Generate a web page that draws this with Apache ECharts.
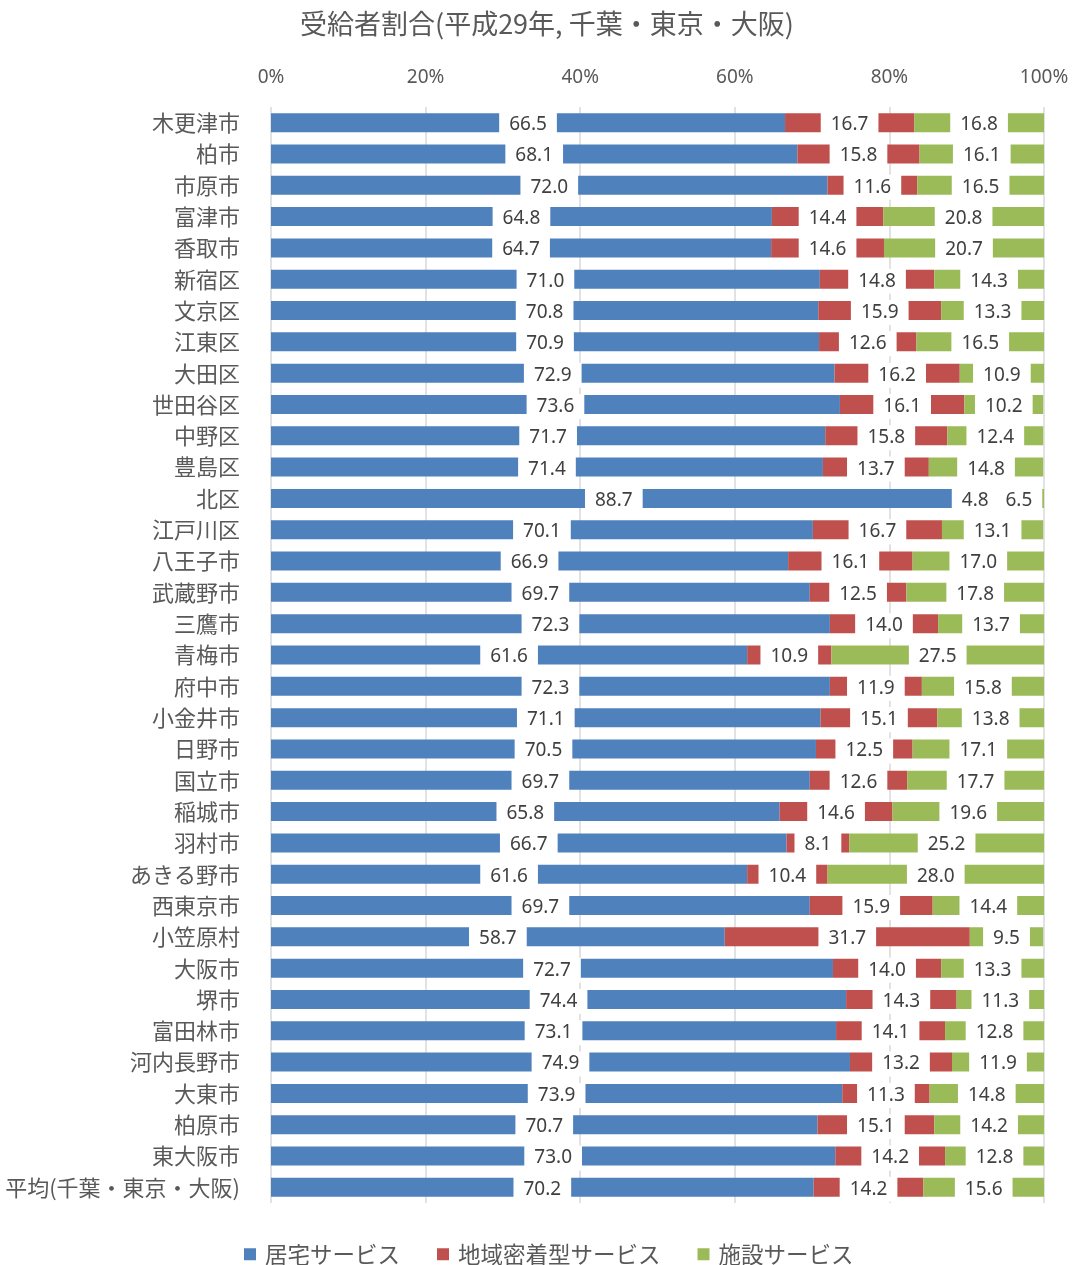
<!DOCTYPE html>
<html>
<head>
<meta charset="utf-8">
<script src="https://cdn.jsdelivr.net/npm/echarts@6/dist/echarts.min.js"></script>
<style>
  html, body { margin: 0; padding: 0; background: #fff; }
  #chart { width: 1075px; height: 1265px; }
</style>
</head>
<body>
<div id="chart"></div>
<script>
// 受給者割合（平成29年）: share of recipients by service type, in percent
const categories = [
  '木更津市', '柏市', '市原市', '富津市', '香取市',
  '新宿区', '文京区', '江東区', '大田区', '世田谷区', '中野区', '豊島区', '北区', '江戸川区',
  '八王子市', '武蔵野市', '三鷹市', '青梅市', '府中市', '小金井市', '日野市', '国立市',
  '稲城市', '羽村市', 'あきる野市', '西東京市', '小笠原村',
  '大阪市', '堺市', '富田林市', '河内長野市', '大東市', '柏原市', '東大阪市',
  '平均(千葉・東京・大阪)'
];
const homeCare = [
  66.5, 68.1, 72.0, 64.8, 64.7,
  71.0, 70.8, 70.9, 72.9, 73.6, 71.7, 71.4, 88.7, 70.1,
  66.9, 69.7, 72.3, 61.6, 72.3, 71.1, 70.5, 69.7,
  65.8, 66.7, 61.6, 69.7, 58.7,
  72.7, 74.4, 73.1, 74.9, 73.9, 70.7, 73.0,
  70.2
];
const communityCare = [
  16.7, 15.8, 11.6, 14.4, 14.6,
  14.8, 15.9, 12.6, 16.2, 16.1, 15.8, 13.7, 4.8, 16.7,
  16.1, 12.5, 14.0, 10.9, 11.9, 15.1, 12.5, 12.6,
  14.6, 8.1, 10.4, 15.9, 31.7,
  14.0, 14.3, 14.1, 13.2, 11.3, 15.1, 14.2,
  14.2
];
const facilityCare = [
  16.8, 16.1, 16.5, 20.8, 20.7,
  14.3, 13.3, 16.5, 10.9, 10.2, 12.4, 14.8, 6.5, 13.1,
  17.0, 17.8, 13.7, 27.5, 15.8, 13.8, 17.1, 17.7,
  19.6, 25.2, 28.0, 14.4, 9.5,
  13.3, 11.3, 12.8, 11.9, 14.8, 14.2, 12.8,
  15.6
];
const xTicks = [0, 20, 40, 60, 80, 100];
const seriesNames = ['居宅サービス', '地域密着型サービス', '施設サービス'];
const seriesColors = ['#4F81BD', '#C0504D', '#9BBB59'];

const cjk = "'Noto Sans CJK JP', 'Noto Sans', sans-serif";
const num = "'Noto Sans', 'Noto Sans CJK JP', sans-serif";

function makeSeries(name, data, color) {
  return {
    name: name,
    type: 'bar',
    stack: 'total',
    barWidth: 19,
    data: data,
    itemStyle: { color: color },
    label: {
      show: true,
      position: 'inside',
      offset: [0, 2],
      formatter: p => p.value.toFixed(1),
      color: '#404040',
      fontFamily: num,
      fontSize: 19,
      lineHeight: 21,
      backgroundColor: '#ffffff',
      padding: [3, 10, 1, 10]
    },
    emphasis: { disabled: true }
  };
}

const chart = echarts.init(document.getElementById('chart'), null, { renderer: 'canvas' });
chart.setOption({
  animation: false,
  title: {
    text: '受給者割合(平成29年, 千葉・東京・大阪)',
    left: 295,
    top: 5,
    textStyle: { color: '#595959', fontSize: 27, fontWeight: 'normal', fontFamily: cjk }
  },
  legend: {
    data: seriesNames,
    top: 1238,
    left: 239,
    itemWidth: 12,
    itemHeight: 12,
    itemGap: 37,
    icon: 'rect',
    textStyle: { color: '#595959', fontSize: 22.5, fontFamily: cjk, padding: [0, 0, 0, 4] }
  },
  grid: { left: 271, right: 31, top: 107, bottom: 62, containLabel: false, outerBoundsMode: 'none' },
  xAxis: {
    type: 'value',
    position: 'top',
    min: xTicks[0],
    max: xTicks[xTicks.length - 1],
    interval: xTicks[1] - xTicks[0],
    axisLine: { show: false },
    axisTick: { show: false },
    axisLabel: {
      formatter: '{value}%',
      color: '#595959',
      fontSize: 19,
      fontFamily: num,
      margin: 20
    },
    splitLine: { show: true, lineStyle: { color: '#D9D9D9', width: 1.5 } }
  },
  yAxis: {
    type: 'category',
    inverse: true,
    data: categories,
    axisLine: { show: false },
    axisTick: { show: false },
    axisLabel: { color: '#595959', fontSize: 22, fontFamily: cjk, margin: 31 }
  },
  series: [
    makeSeries(seriesNames[0], homeCare, seriesColors[0]),
    makeSeries(seriesNames[1], communityCare, seriesColors[1]),
    makeSeries(seriesNames[2], facilityCare, seriesColors[2])
  ]
});
</script>
</body>
</html>
